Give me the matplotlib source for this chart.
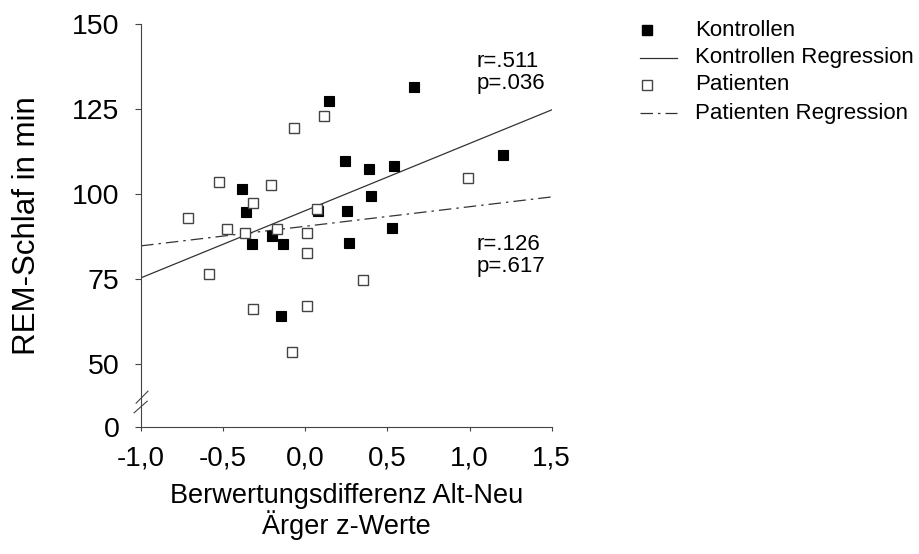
import numpy as np
import matplotlib
matplotlib.use('Agg')
import matplotlib.pyplot as plt
from matplotlib.lines import Line2D

plt.rcParams['font.family'] = ['Liberation Sans', 'DejaVu Sans']

# Kontrollen (filled squares)
kontrollen_x = [0.145, 0.662, 0.243, 0.389, 0.541, 0.401, 0.255, 0.528, 0.267,
                1.204, -0.384, -0.359, -0.323, -0.201, -0.134, 0.078, -0.147]
kontrollen_y = [127.4, 131.5, 109.7, 107.4, 108.2, 99.4, 95.0, 90.0, 85.6,
                111.5, 101.5, 94.7, 85.3, 87.6, 85.3, 95.0, 64.1]

# Patienten (open squares)
patienten_x = [-0.527, -0.207, -0.317, -0.067, 0.114, -0.712, -0.475, -0.366, -0.171,
               0.072, 0.012, 0.012, -0.585, -0.317, 0.012, -0.080, 0.352, 0.991]
patienten_y = [103.5, 102.6, 97.4, 119.4, 122.9, 92.9, 89.7, 88.5, 89.7,
               95.6, 88.5, 82.6, 76.5, 66.2, 67.1, 53.5, 74.7, 104.7]

# regression lines (intercept, slope)
kontrollen_fit = (95.1, 19.76)
patienten_fit = (90.5, 5.76)

stats_kontrollen = "r=.511\np=.036"
stats_patienten = "r=.126\np=.617"

x_ticks = [-1.0, -0.5, 0.0, 0.5, 1.0, 1.5]
x_labels = ["-1,0", "-0,5", "0,0", "0,5", "1,0", "1,5"]
y_bottom = 31.6  # broken axis, this level is shown as 0
y_ticks = [y_bottom, 50, 75, 100, 125, 150]
y_labels = ["0", "50", "75", "100", "125", "150"]

W, H = 920, 554
fig = plt.figure(figsize=(W / 100, H / 100), dpi=100)
ax = fig.add_axes([0.1533, 0.2301, 0.4464, 0.7266])

line_col = '#333333'
xs = np.array([-1.0, 1.5])
ax.plot(xs, kontrollen_fit[0] + kontrollen_fit[1] * xs, color=line_col, lw=0.9)
ax.plot(xs, patienten_fit[0] + patienten_fit[1] * xs, color=line_col, lw=0.9,
        dashes=[10, 4, 2, 4])

ax.plot(kontrollen_x, kontrollen_y, 's', color='black', ms=7.5, mec='black', mew=0.8)
ax.plot(patienten_x, patienten_y, 's', mfc='white', mec='#444444', ms=7.5, mew=1.0)

ax.text(1.045, 135.7, stats_kontrollen, fontsize=16, va='center', ha='left', linespacing=1.1)
ax.text(1.045, 81.9, stats_patienten, fontsize=16, va='center', ha='left', linespacing=1.1)

ax.set_xlim(-1.0, 1.5)
ax.set_ylim(y_bottom, 150)
ax.set_xticks(x_ticks)
ax.set_xticklabels(x_labels)
ax.set_yticks(y_ticks)
ax.set_yticklabels(y_labels)
ax.tick_params(axis='x', length=3, width=0.8, pad=11, labelsize=20, color='#444444')
ax.tick_params(axis='y', length=4.5, width=0.8, pad=11, labelsize=20.5, color='#444444')

for s in ['top', 'right']:
    ax.spines[s].set_visible(False)
for s in ['left', 'bottom']:
    ax.spines[s].set_linewidth(0.8)
    ax.spines[s].set_color('#444444')

# axis break marks
ax.plot([-0.005, -0.005], [0.045, 0.075], color='white', lw=2, transform=ax.transAxes, clip_on=False)
ax.plot([-0.012, 0.017], [0.058, 0.088], color='#444444', lw=0.8, transform=ax.transAxes, clip_on=False)
ax.plot([-0.017, 0.015], [0.034, 0.063], color='#444444', lw=0.8, transform=ax.transAxes, clip_on=False)

ax.set_ylabel("REM-Schlaf in min", fontsize=22.5)
ax.yaxis.set_label_coords(-0.24, 0.5)
ax.set_xlabel("Berwertungsdifferenz Alt-Neu\nÄrger z-Werte", fontsize=19.5, linespacing=1.06)
ax.xaxis.labelpad = 8

# legend, drawn by hand to the right of the axes
def fx(x):
    return x / W

def fy(y):
    return 1 - y / H

legend_rows = [
    ("Kontrollen", dict(marker='s', ls='none', color='black', ms=7), 30),
    ("Kontrollen Regression", dict(ls='-', color=line_col, lw=0.9), 58),
    ("Patienten", dict(marker='s', ls='none', mfc='white', mec='#444444', ms=7), 85),
    ("Patienten Regression", dict(ls='-', color=line_col, lw=0.9, dashes=[10, 4, 2, 4]), 113),
]
for label, style, y in legend_rows:
    if style.get('marker'):
        fig.add_artist(Line2D([fx(647)], [fy(y)], transform=fig.transFigure, **style))
    else:
        fig.add_artist(Line2D([fx(640), fx(677)], [fy(y), fy(y)], transform=fig.transFigure, **style))
    fig.text(fx(695), fy(y), label, fontsize=16, va='center', ha='left')

fig.savefig('out.png', dpi=100)
